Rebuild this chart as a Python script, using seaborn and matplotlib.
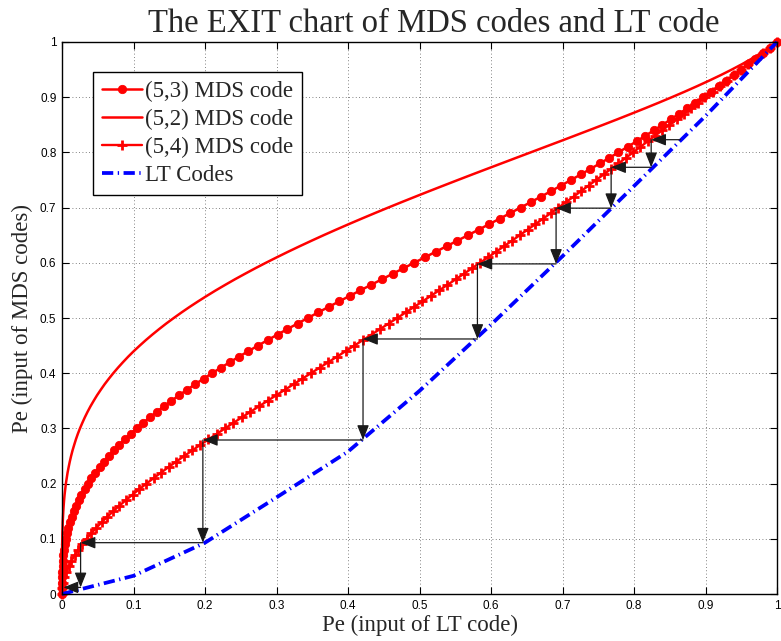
import matplotlib
matplotlib.use("Agg")
import matplotlib.pyplot as plt
import seaborn as sns
import pandas as pd

# ---------------- data ----------------
pe_mds = [0.00, 0.01, 0.02, 0.03, 0.04, 0.05, 0.06, 0.07, 0.08, 0.09,
          0.10, 0.11, 0.12, 0.13, 0.14, 0.15, 0.16, 0.17, 0.18, 0.19,
          0.20, 0.21, 0.22, 0.23, 0.24, 0.25, 0.26, 0.27, 0.28, 0.29,
          0.30, 0.31, 0.32, 0.33, 0.34, 0.35, 0.36, 0.37, 0.38, 0.39,
          0.40, 0.41, 0.42, 0.43, 0.44, 0.45, 0.46, 0.47, 0.48, 0.49,
          0.50, 0.51, 0.52, 0.53, 0.54, 0.55, 0.56, 0.57, 0.58, 0.59,
          0.60, 0.61, 0.62, 0.63, 0.64, 0.65, 0.66, 0.67, 0.68, 0.69,
          0.70, 0.71, 0.72, 0.73, 0.74, 0.75, 0.76, 0.77, 0.78, 0.79,
          0.80, 0.81, 0.82, 0.83, 0.84, 0.85, 0.86, 0.87, 0.88, 0.89,
          0.90, 0.91, 0.92, 0.93, 0.94, 0.95, 0.96, 0.97, 0.98, 0.99, 1.00]

pe_lt_53 = [0.0, 0.0, 0.0, 0.0002, 0.0004, 0.0007, 0.0012, 0.0019, 0.0028, 0.0039,
            0.0052, 0.0069, 0.0088, 0.0110, 0.0136, 0.0164, 0.0196, 0.0232, 0.0272, 0.0315,
            0.0362, 0.0412, 0.0467, 0.0525, 0.0588, 0.0654, 0.0725, 0.0799, 0.0877, 0.0959,
            0.1045, 0.1135, 0.1228, 0.1325, 0.1425, 0.1530, 0.1637, 0.1748, 0.1862, 0.1979,
            0.2099, 0.2222, 0.2348, 0.2476, 0.2607, 0.2741, 0.2876, 0.3014, 0.3153, 0.3295,
            0.3438, 0.3582, 0.3728, 0.3875, 0.4023, 0.4172, 0.4322, 0.4472, 0.4623, 0.4774,
            0.4925, 0.5076, 0.5227, 0.5378, 0.5528, 0.5678, 0.5827, 0.5975, 0.6123, 0.6269,
            0.6414, 0.6558, 0.6701, 0.6842, 0.6981, 0.7119, 0.7255, 0.7390, 0.7523, 0.7653,
            0.7782, 0.7909, 0.8035, 0.8158, 0.8279, 0.8398, 0.8516, 0.8631, 0.8745, 0.8857,
            0.8967, 0.9075, 0.9182, 0.9288, 0.9392, 0.9495, 0.9598, 0.9699, 0.9800, 0.9900, 1.0]

pe_lt_52 = [0.0, 0.0, 0.0, 0.0, 0.0, 0.0, 0.0, 0.0001, 0.0002, 0.0002,
            0.0004, 0.0005, 0.0008, 0.0010, 0.0014, 0.0018, 0.0023, 0.0029, 0.0036, 0.0045,
            0.0054, 0.0066, 0.0078, 0.0093, 0.0109, 0.0127, 0.0147, 0.0170, 0.0194, 0.0221,
            0.0251, 0.0284, 0.0319, 0.0357, 0.0398, 0.0443, 0.0490, 0.0542, 0.0596, 0.0655,
            0.0717, 0.0783, 0.0853, 0.0926, 0.1004, 0.1087, 0.1173, 0.1264, 0.1359, 0.1458,
            0.1563, 0.1671, 0.1784, 0.1902, 0.2024, 0.2150, 0.2282, 0.2417, 0.2558, 0.2702,
            0.2851, 0.3005, 0.3162, 0.3324, 0.3490, 0.3659, 0.3833, 0.4010, 0.4191, 0.4375,
            0.4562, 0.4752, 0.4945, 0.5140, 0.5338, 0.5537, 0.5738, 0.5941, 0.6145, 0.6349,
            0.6554, 0.6758, 0.6963, 0.7166, 0.7368, 0.7569, 0.7768, 0.7963, 0.8156, 0.8345,
            0.8529, 0.8709, 0.8883, 0.9051, 0.9213, 0.9367, 0.9513, 0.9650, 0.9777, 0.9894, 1.0]

pe_lt_54 = [0.0, 0.0004, 0.0016, 0.0034, 0.0060, 0.0093, 0.0132, 0.0176, 0.0227, 0.0283,
            0.0344, 0.0410, 0.0480, 0.0555, 0.0634, 0.0717, 0.0803, 0.0893, 0.0986, 0.1082,
            0.1181, 0.1282, 0.1386, 0.1491, 0.1599, 0.1709, 0.1820, 0.1933, 0.2048, 0.2163,
            0.2280, 0.2397, 0.2516, 0.2635, 0.2755, 0.2875, 0.2996, 0.3117, 0.3239, 0.3360,
            0.3482, 0.3603, 0.3725, 0.3846, 0.3967, 0.4088, 0.4209, 0.4329, 0.4449, 0.4569,
            0.4688, 0.4806, 0.4924, 0.5041, 0.5158, 0.5274, 0.5390, 0.5505, 0.5620, 0.5733,
            0.5846, 0.5959, 0.6071, 0.6182, 0.6293, 0.6402, 0.6512, 0.6621, 0.6729, 0.6836,
            0.6943, 0.7050, 0.7156, 0.7261, 0.7366, 0.7471, 0.7575, 0.7678, 0.7782, 0.7885,
            0.7987, 0.8089, 0.8191, 0.8293, 0.8395, 0.8496, 0.8597, 0.8698, 0.8798, 0.8899,
            0.8999, 0.9099, 0.9200, 0.9300, 0.9400, 0.9500, 0.9600, 0.9700, 0.9800, 0.9900, 1.0]

lt_in = [0.0, 0.1, 0.2, 0.3, 0.4, 0.5, 0.6, 0.7, 0.8, 0.9, 1.0]
lt_out = [0.0, 0.033, 0.093, 0.175, 0.258, 0.368, 0.488, 0.612, 0.739, 0.866, 1.0]

# decoding trajectory (staircase) vertices
stair_x = [0.865, 0.824, 0.824, 0.768, 0.768, 0.691, 0.691, 0.581, 0.581,
           0.421, 0.421, 0.197, 0.197, 0.026, 0.026, 0.002]
stair_y = [0.823, 0.823, 0.773, 0.773, 0.699, 0.699, 0.598, 0.598, 0.462,
           0.462, 0.279, 0.279, 0.093, 0.093, 0.012, 0.012]

ticks = [0, 0.1, 0.2, 0.3, 0.4, 0.5, 0.6, 0.7, 0.8, 0.9, 1]
tick_labels = ["0", "0.1", "0.2", "0.3", "0.4", "0.5", "0.6", "0.7", "0.8", "0.9", "1"]

title = "The EXIT chart of MDS codes and LT code"
xlabel = "Pe (input of LT code)"
ylabel = "Pe (input of MDS codes)"

# ---------------- drawing ----------------
sns.set_style("white")
plt.rcParams["font.family"] = ["Liberation Serif", "DejaVu Serif"]

fig = plt.figure(figsize=(7.81, 6.41), dpi=100)
ax = fig.add_axes([0.0794, 0.0733, 0.9155, 0.8612])

common = dict(ax=ax, estimator=None, sort=False, errorbar=None)

sns.lineplot(x=pe_lt_53, y=pe_mds, color="red", lw=1.8, marker="o",
             markersize=6.0, markeredgecolor="red", markeredgewidth=0.6,
             label="(5,3) MDS code", clip_on=False, **common)
sns.lineplot(x=pe_lt_52, y=pe_mds, color="red", lw=1.8,
             label="(5,2) MDS code", clip_on=False, **common)
sns.lineplot(x=pe_lt_54, y=pe_mds, color="red", lw=1.7, marker="+",
             markersize=6.5, markeredgecolor="red", markeredgewidth=2.0,
             label="(5,4) MDS code", clip_on=False, **common)
sns.lineplot(x=lt_in, y=lt_out, color="blue", lw=2.7,
             label="LT Codes", clip_on=False, **common)
ax.lines[-1].set_linestyle((0, (3.0, 1.2, 0.35, 1.2)))
ax.lines[-1].set_dash_capstyle("butt")

# staircase arrows
for i in range(len(stair_x) - 1):
    ax.annotate("", xy=(stair_x[i + 1], stair_y[i + 1]),
                xytext=(stair_x[i], stair_y[i]),
                arrowprops=dict(arrowstyle="-|>,head_length=0.75,head_width=0.3",
                                color="0.1", lw=0.9, mutation_scale=12,
                                shrinkA=0, shrinkB=0),
                zorder=5)

ax.set_xlim(0, 1)
ax.set_ylim(0, 1)
ax.set_xticks(ticks)
ax.set_yticks(ticks)
ax.set_xticklabels(tick_labels, family="Liberation Sans", fontsize=8.5)
ax.set_yticklabels(tick_labels, family="Liberation Sans", fontsize=8.5)
ax.tick_params(direction="in", length=5, width=0.8, top=True, right=True,
               bottom=True, left=True, pad=4, colors="black")
ax.grid(True, linestyle=(0, (1, 3)), color="0.35", lw=0.6)
for s in ax.spines.values():
    s.set_color("black")
    s.set_linewidth(1.0)

ax.set_title(title, fontsize=23.5, pad=7, x=0.52)
ax.set_xlabel(xlabel, fontsize=16.5, labelpad=2)
ax.set_ylabel(ylabel, fontsize=16.5, labelpad=5)

leg = ax.legend(loc="upper left", bbox_to_anchor=(0.043, 0.946), frameon=True,
                fancybox=False, edgecolor="black", framealpha=1, fontsize=16.5,
                handlelength=1.75, handletextpad=0.12, labelspacing=0.3,
                borderpad=0.4, borderaxespad=0)
leg.get_frame().set_linewidth(1.0)

fig.savefig("out.png", dpi=100)
